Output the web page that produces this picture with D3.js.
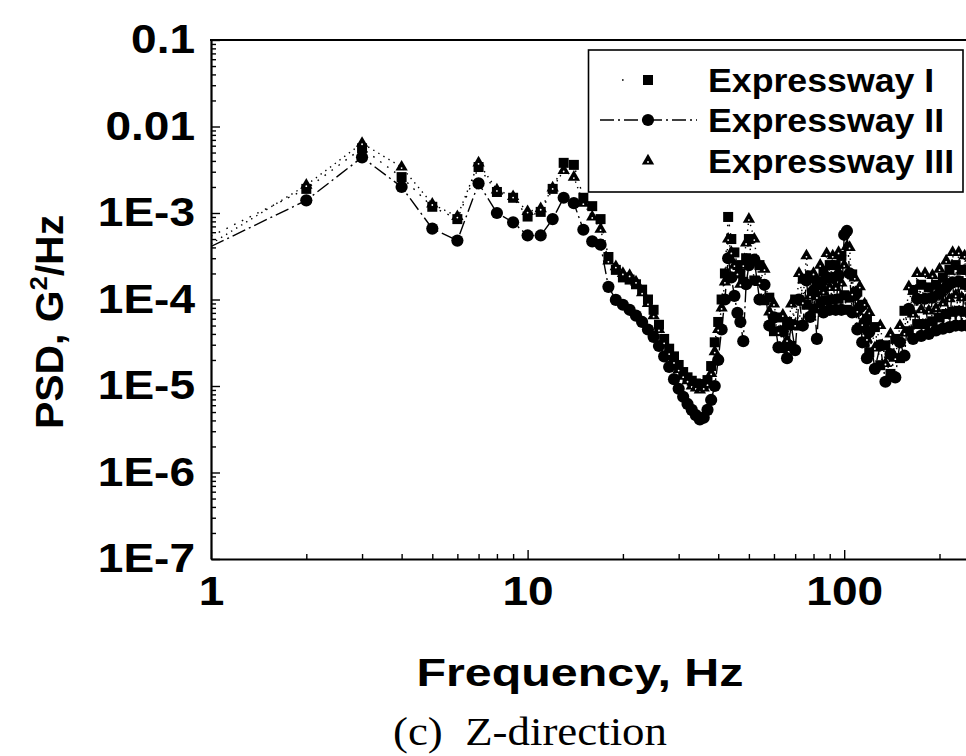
<!DOCTYPE html>
<html>
<head>
<meta charset="utf-8">
<script src="https://cdn.jsdelivr.net/npm/d3@7"></script>
<style>
  body { margin: 0; background: #fff; }
  svg { display: block; }
</style>
</head>
<body>
<svg id="chart" width="966" height="756"></svg>
<script>
// ---------------- data ----------------
const freqs = [
  1,2,3,4,5,6,7,8,9,10,11,12,13,14,15,16,17,18,19,20,
  21,22,23,24,25,26,27,28,29,30,31,32,33,34,35,36,37,38,39,40,
  41,42,43,44,45,46,47,48,49,50,
  52,54,56,58,60,62,64,66,68,70,72,74,76,78,80,82,84,86,88,90,
  92,94,96,98,100,102,104,106,108,110,112,114,116,118,120,
  125,130,135,140,145,150,155,160,165,170,175,180,185,190,195,200,
  205,210,215,220,225,230,235,240,245,250
];
const expresswayI = [
  5.4e-4,1.9e-3,5.6e-3,2.6e-3,1.18e-3,8.5e-4,3.4e-3,1.75e-3,1.5e-3,9.1e-4,
  1.03e-3,1.9e-3,3.8e-3,3.6e-3,1.5e-3,1.2e-3,8.5e-4,3.1e-4,2.2e-4,1.8e-4,
  1.7e-4,1.5e-4,1.3e-4,1.0e-4,7.6e-5,5.1e-5,3.5e-5,2.7e-5,2.2e-5,1.75e-5,
  1.45e-5,1.26e-5,1.15e-5,1.07e-5,1.05e-5,1.05e-5,1.17e-5,1.7e-5,3.2e-5,5.5e-5,
  1.0e-4,2.0e-4,9.0e-4,5.0e-4,3.5e-4,2.5e-4,2.0e-4,1.6e-4,3.0e-4,5.0e-4,
  1.66e-4,2.5e-4,9.8e-5,1.05e-4,4.3e-5,6.2e-5,2.75e-5,5.5e-5,2.9e-5,1.0e-4,
  5.0e-5,1.74e-4,8.7e-5,1.9e-4,7.9e-5,1.62e-4,9.1e-5,2.1e-4,9.8e-5,2.5e-4,
  1.0e-4,2.5e-4,1.02e-4,3.2e-4,1.12e-4,7.6e-5,1.05e-4,1.95e-4,7.1e-5,1.23e-4,
  4.7e-5,8.7e-5,3.2e-5,6.0e-5,2.45e-5,
  4.8e-5,1.74e-5,2.95e-5,1.38e-5,3.5e-5,2.1e-5,7.4e-5,4.3e-5,1.29e-4,5.2e-5,
  1.48e-4,5.2e-5,1.38e-4,5.6e-5,1.48e-4,6.2e-5,1.78e-4,6.8e-5,2.2e-4,7.2e-5,
  2.5e-4,7.4e-5,2.2e-4,7.2e-5,2.2e-4,7.0e-5
];
const expresswayII = [
  4.1e-4,1.4e-3,4.4e-3,2.0e-3,6.6e-4,4.8e-4,2.2e-3,1.0e-3,7.8e-4,5.5e-4,
  5.5e-4,8.5e-4,1.5e-3,1.3e-3,6.4e-4,4.7e-4,4.3e-4,1.4e-4,9.9e-5,8.7e-5,
  7.6e-5,6.5e-5,5.5e-5,4.5e-5,3.7e-5,2.9e-5,2.2e-5,1.66e-5,1.2e-5,9.3e-6,
  7.5e-6,6.2e-6,5.3e-6,4.6e-6,4.1e-6,4.3e-6,5.3e-6,6.9e-6,1.0e-5,2.0e-5,
  4.5e-5,1.0e-4,3.0e-4,1.8e-4,1.1e-4,7.0e-5,5.5e-5,3.3e-5,1.5e-4,2.5e-4,
  2.9e-4,1.0e-4,1.48e-4,5.0e-5,6.2e-5,2.8e-5,4.3e-5,2.1e-5,5.1e-5,2.6e-5,
  1.0e-4,5.0e-5,1.66e-4,6.3e-5,1.26e-4,3.5e-5,1.5e-4,7.1e-5,1.8e-4,7.6e-5,
  1.78e-4,7.6e-5,1.9e-4,7.6e-5,5.6e-4,6.2e-4,2.0e-4,7.1e-5,1.12e-4,4.5e-5,
  8.1e-5,3.2e-5,5.4e-5,2.1e-5,4.2e-5,
  1.58e-5,2.95e-5,1.12e-5,2.34e-5,1.26e-5,3.2e-5,2.24e-5,7.8e-5,3.5e-5,1.02e-4,
  3.8e-5,1.02e-4,4.0e-5,1.05e-4,4.4e-5,1.17e-4,4.6e-5,1.38e-4,4.8e-5,1.58e-4,
  5.0e-5,1.62e-4,5.0e-5,1.51e-4,5.0e-5,1.5e-4
];
const expresswayIII = [
  4.4e-4,2.1e-3,6.4e-3,3.4e-3,1.27e-3,9.1e-4,3.8e-3,1.85e-3,1.55e-3,1.04e-3,
  1.12e-3,1.95e-3,3.1e-3,2.6e-3,1.3e-3,9.0e-4,6.5e-4,2.8e-4,2.4e-4,2.0e-4,
  1.9e-4,1.6e-4,1.2e-4,9.0e-5,6.5e-5,4.5e-5,3.2e-5,2.4e-5,1.9e-5,1.55e-5,
  1.3e-5,1.15e-5,1.0e-5,9.5e-6,9.0e-6,9.5e-6,1.05e-5,1.4e-5,2.5e-5,4.5e-5,
  8.0e-5,1.6e-4,5.0e-4,3.5e-4,2.5e-4,2.0e-4,1.5e-4,2.5e-4,4.5e-4,8.5e-4,
  5.0e-4,1.58e-4,2.24e-4,7.2e-5,8.9e-5,4.2e-5,6.6e-5,3.4e-5,8.9e-5,5.1e-5,
  2.0e-4,9.3e-5,3.2e-4,1.1e-4,2.0e-4,1.07e-4,2.5e-4,1.23e-4,3.4e-4,1.38e-4,
  3.2e-4,1.38e-4,3.5e-4,1.55e-4,2.5e-4,4.1e-4,4.0e-4,1.17e-4,1.78e-4,7.4e-5,
  1.41e-4,5.2e-5,8.9e-5,3.5e-5,7.1e-5,
  2.75e-5,5.0e-5,1.82e-5,4.0e-5,2.1e-5,5.0e-5,4.1e-5,1.41e-4,6.8e-5,2.0e-4,
  7.6e-5,2.0e-4,7.4e-5,1.9e-4,7.9e-5,2.24e-4,9.1e-5,2.8e-4,1.02e-4,3.5e-4,
  1.12e-4,3.5e-4,1.05e-4,3.2e-4,1.05e-4,3.0e-4
];
const seriesNames = ["Expressway I", "Expressway II", "Expressway III"];
const yTickValues = [1e-7, 1e-6, 1e-5, 1e-4, 1e-3, 1e-2, 1e-1];
const yTickLabels = ["1E-7", "1E-6", "1E-5", "1E-4", "1E-3", "0.01", "0.1"];
const xTickValues = [1, 10, 100];
const xTickLabels = ["1", "10", "100"];
const xTitle = "Frequency, Hz";
const caption = "(c)  Z-direction";

// ---------------- layout ----------------
const W = 966, H = 756;
const plotL = 211, plotT = 40, plotB = 559;
const decadePx = 316.6;
const svg = d3.select("#chart");
const x = d3.scaleLog().domain([1, 1000]).range([plotL, plotL + 3 * decadePx]);
const y = d3.scaleLog().domain([1e-7, 0.1]).range([plotB, plotT]);
const BOLD = "'Liberation Sans', Arial, Helvetica, sans-serif";

function stretch(sel, k) {
  sel.each(function () {
    const w = this.getComputedTextLength();
    d3.select(this).attr("textLength", w * k).attr("lengthAdjust", "spacingAndGlyphs");
  });
}

svg.append("defs").append("clipPath").attr("id", "plotclip")
  .append("rect").attr("x", plotL).attr("y", plotT - 6).attr("width", W - plotL + 20).attr("height", plotB - plotT + 6);

// ---------------- series ----------------
const series = [
  { name: seriesNames[0], values: expresswayI, marker: "square", dash: "1.6,7" },
  { name: seriesNames[1], values: expresswayII, marker: "circle", dash: "14,4,2,4" },
  { name: seriesNames[2], values: expresswayIII, marker: "triangle", dash: "1.4,4.5" }
];

const plot = svg.append("g").attr("clip-path", "url(#plotclip)");
const lineGen = d3.line().x(d => x(d.f)).y(d => y(d.v));

series.forEach(s => {
  s.points = freqs.map((f, i) => ({ f, v: s.values[i] }));
  plot.append("path").datum(s.points)
    .attr("d", lineGen)
    .attr("fill", "none").attr("stroke", "#000").attr("stroke-width", 1.4)
    .attr("stroke-dasharray", s.dash);
});

function drawMarker(g, type, cx, cy) {
  if (type === "square") {
    g.append("rect").attr("x", cx - 5).attr("y", cy - 5).attr("width", 10).attr("height", 10).attr("fill", "#000");
  } else if (type === "circle") {
    g.append("circle").attr("cx", cx).attr("cy", cy).attr("r", 6.1).attr("fill", "#000");
  } else {
    g.append("path").attr("d", d3.symbol(d3.symbolTriangle, 66)())
      .attr("transform", `translate(${cx},${cy})`).attr("fill", "#000");
    g.append("circle").attr("cx", cx).attr("cy", cy + 1).attr("r", 0.9).attr("fill", "#fff");
  }
}

[1, 0, 2].forEach(k => {
  const s = series[k];
  const g = plot.append("g");
  s.points.filter(p => p.f > 1).forEach(p => drawMarker(g, s.marker, x(p.f), y(p.v)));
});

// ---------------- axes ----------------
const xMinor = [];
[1, 10, 100].forEach(d => { for (let m = 2; m <= 9; m++) xMinor.push(d * m); });
const yMinor = [];
[1e-7, 1e-6, 1e-5, 1e-4, 1e-3, 1e-2].forEach(d => { for (let m = 2; m <= 9; m++) yMinor.push(d * m); });

const xg = svg.append("g").attr("transform", `translate(0,${plotB})`);
xg.append("g").call(d3.axisBottom(x).tickValues(xMinor).tickSizeInner(-5).tickSizeOuter(0).tickFormat(""))
  .call(g => g.select(".domain").remove());
const xMaj = xg.append("g").call(d3.axisBottom(x).tickValues(xTickValues).tickSizeInner(-9).tickSizeOuter(0)
  .tickPadding(18).tickFormat((d, i) => xTickLabels[i]));
xMaj.select(".domain").attr("stroke-width", 2.2);
xg.selectAll(".tick line").attr("stroke-width", 1.4);
xMaj.selectAll("text").attr("font-family", BOLD).attr("font-weight", "bold").attr("font-size", 40).attr("fill", "#000")
  .call(stretch, 1.15);

const yg = svg.append("g").attr("transform", `translate(${plotL},0)`);
yg.append("g").call(d3.axisLeft(y).tickValues(yMinor).tickSizeInner(-5).tickSizeOuter(0).tickFormat(""))
  .call(g => g.select(".domain").remove());
const yMaj = yg.append("g").call(d3.axisLeft(y).tickValues(yTickValues).tickSizeInner(-9).tickSizeOuter(0)
  .tickPadding(16).tickFormat((d, i) => yTickLabels[i]));
yMaj.select(".domain").attr("stroke-width", 2.2);
yg.selectAll(".tick line").attr("stroke-width", 1.4);
yMaj.selectAll("text").attr("font-family", BOLD).attr("font-weight", "bold").attr("font-size", 40).attr("fill", "#000")
  .call(stretch, 1.15);

svg.append("line").attr("x1", plotL - 1).attr("x2", W).attr("y1", plotT).attr("y2", plotT)
  .attr("stroke", "#000").attr("stroke-width", 2.2);

// ---------------- titles ----------------
svg.append("text").attr("x", 580).attr("y", 686).attr("text-anchor", "middle")
  .attr("font-family", BOLD).attr("font-weight", "bold").attr("font-size", 39).attr("fill", "#000")
  .text(xTitle).call(stretch, 1.24);

const yt = svg.append("text").attr("transform", "translate(63,322) rotate(-90)").attr("text-anchor", "middle")
  .attr("font-family", BOLD).attr("font-weight", "bold").attr("font-size", 39).attr("fill", "#000");
yt.append("tspan").text("PSD, G");
yt.append("tspan").attr("font-size", 24).attr("dy", -16).text("2");
yt.append("tspan").attr("dy", 16).text("/Hz");
yt.call(stretch, 1.05);

svg.append("text").attr("x", 530).attr("y", 745).attr("text-anchor", "middle")
  .attr("font-family", "'Liberation Serif', 'Times New Roman', serif").attr("font-size", 39).attr("fill", "#000")
  .style("white-space", "pre")
  .text(caption).call(stretch, 1.15);

// ---------------- legend ----------------
const lg = svg.append("g");
lg.append("rect").attr("x", 588.5).attr("y", 50).attr("width", 374.5).attr("height", 142)
  .attr("fill", "#fff").attr("stroke", "#000").attr("stroke-width", 1.6);
const rowsY = [80, 120, 161];
series.forEach((s, i) => {
  const cy = rowsY[i];
  if (i === 0) {
    lg.append("line").attr("x1", 622).attr("x2", 625).attr("y1", cy).attr("y2", cy)
      .attr("stroke", "#000").attr("stroke-width", 1.3).attr("stroke-dasharray", s.dash);
  } else if (i === 1) {
    lg.append("line").attr("x1", 600).attr("x2", 697).attr("y1", cy).attr("y2", cy)
      .attr("stroke", "#000").attr("stroke-width", 1.3).attr("stroke-dasharray", s.dash);
  }
  drawMarker(lg, s.marker, 648, cy);
  lg.append("text").attr("x", 708).attr("y", cy).attr("dy", "0.36em")
    .attr("font-family", BOLD).attr("font-weight", "bold").attr("font-size", 34).attr("fill", "#000")
    .text(s.name).call(stretch, 1.05);
});
</script>
</body>
</html>
